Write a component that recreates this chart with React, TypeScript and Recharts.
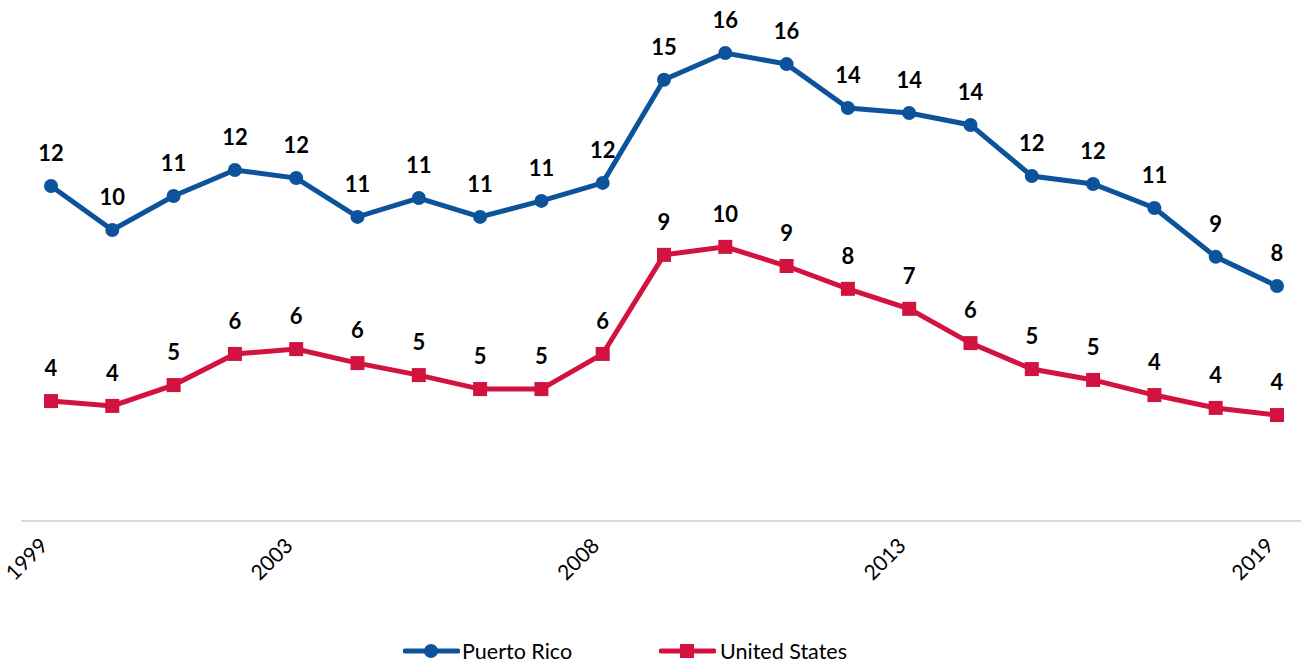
import React from "react";
import { LineChart, Line, XAxis, YAxis, Legend } from "recharts";

const years = [1999, 2000, 2001, 2002, 2003, 2004, 2005, 2006, 2007, 2008, 2009, 2010, 2011, 2012, 2013, 2014, 2015, 2016, 2017, 2018, 2019];
const puertoRico = [11.73, 10.19, 11.38, 12.29, 12.01, 10.65, 11.31, 10.65, 11.21, 11.84, 15.45, 16.39, 16.0, 14.46, 14.29, 13.87, 12.08, 11.8, 10.96, 9.25, 8.23];
const unitedStates = [4.2, 4.03, 4.76, 5.85, 6.02, 5.53, 5.11, 4.62, 4.62, 5.85, 9.32, 9.6, 8.93, 8.13, 7.43, 6.23, 5.32, 4.94, 4.41, 3.96, 3.71];
const xTicks = [1999, 2003, 2008, 2013, 2019];

const BLUE = "#0C539C";
const RED = "#D3133F";
const FONT = "Lato, 'Open Sans', sans-serif";

const data = years.map((y, i) => ({ year: y, pr: puertoRico[i], us: unitedStates[i] }));

const Tick = (props: any) => {
  const { x, y, payload } = props;
  const ax = x - 2;
  const ay = y + 26;
  return (
    <text
      x={ax}
      y={ay}
      transform={`rotate(-45, ${ax}, ${ay})`}
      textAnchor="end"
      fontFamily={FONT}
      fontSize={21}
      fill="#000"
    >
      {payload.value}
    </text>
  );
};

const makeLabel = () => (props: any) => {
  const { x, y, value } = props;
  return (
    <text
      x={x}
      y={y - 25}
      textAnchor="middle"
      fontFamily={FONT}
      fontWeight={700}
      fontSize={22}
      fill="#000"
    >
      {Math.round(value)}
    </text>
  );
};

const SquareDot = (props: any) => {
  const { cx, cy, index } = props;
  return <rect key={`sq-${index}`} x={cx - 7} y={cy - 7} width={14} height={14} fill={RED} />;
};

const LegendContent = () => (
  <div style={{ position: "relative", width: 1302, height: 35, fontFamily: FONT, fontSize: 21.5, color: "#000" }}>
    <div style={{ position: "absolute", left: 403, top: 6, display: "flex", alignItems: "center" }}>
      <svg width={57} height={22}>
        <line x1={2} y1={11} x2={55} y2={11} stroke={BLUE} strokeWidth={5} strokeLinecap="round" />
        <circle cx={28} cy={11} r={7} fill={BLUE} />
      </svg>
      <span style={{ marginLeft: 2 }}>Puerto Rico</span>
    </div>
    <div style={{ position: "absolute", left: 659, top: 6, display: "flex", alignItems: "center" }}>
      <svg width={57} height={22}>
        <line x1={2} y1={11} x2={55} y2={11} stroke={RED} strokeWidth={5} strokeLinecap="round" />
        <rect x={21} y={4} width={14} height={14} fill={RED} />
      </svg>
      <span style={{ marginLeft: 4 }}>United States</span>
    </div>
  </div>
);

export default function App() {
  return (
    <div style={{ position: "absolute", left: 0, top: 0, width: 1302, height: 667, background: "#fff" }}>
      <LineChart width={1302} height={667} data={data} margin={{ top: 7, right: 1, left: 21, bottom: 0 }}>
        <XAxis
          dataKey="year"
          type="number"
          domain={[1999, 2019]}
          ticks={xTicks}
          padding={{ left: 30, right: 24 }}
          axisLine={{ stroke: "#D9D9D9", strokeWidth: 2 }}
          tickLine={false}
          tickSize={0}
          tickMargin={0}
          height={111}
          tick={<Tick />}
          interval={0}
        />
        <YAxis hide domain={[0, 18]} />
        <Legend
          verticalAlign="bottom"
          height={35}
          content={<LegendContent />}
          wrapperStyle={{ left: 0, width: 1302 }}
        />
        <Line
          dataKey="pr"
          name="Puerto Rico"
          stroke={BLUE}
          strokeWidth={5}
          dot={{ r: 7, fill: BLUE, stroke: BLUE, strokeWidth: 0 }}
          activeDot={false}
          isAnimationActive={false}
          label={makeLabel()}
        />
        <Line
          dataKey="us"
          name="United States"
          stroke={RED}
          strokeWidth={5}
          dot={<SquareDot />}
          activeDot={false}
          isAnimationActive={false}
          label={makeLabel()}
        />
      </LineChart>
    </div>
  );
}
